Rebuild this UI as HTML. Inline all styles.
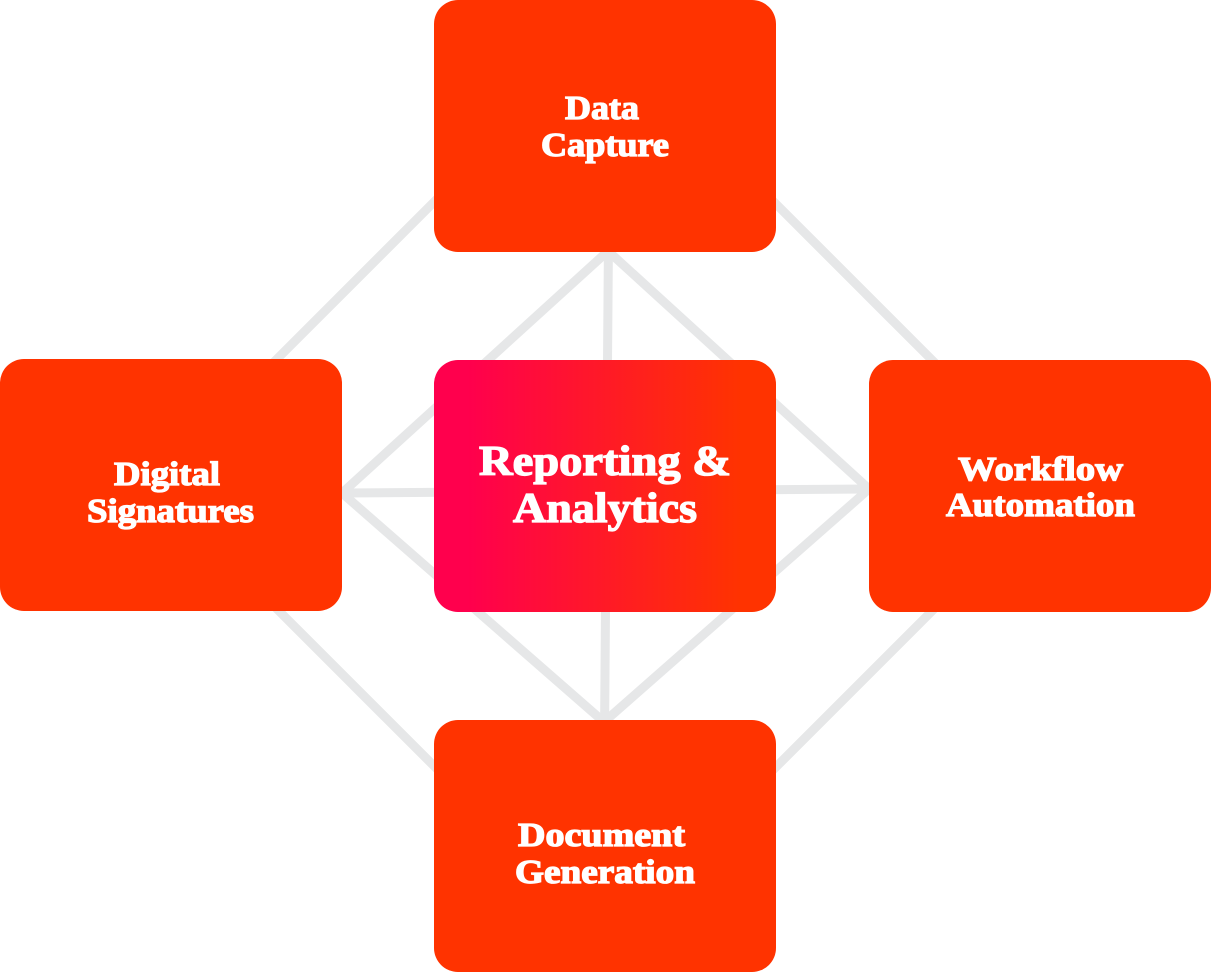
<!DOCTYPE html>
<html><head><meta charset="utf-8"><style>html,body{margin:0;padding:0;background:#fff}svg{display:block}text{font-family:"Liberation Serif",serif;font-weight:bold;fill:#fff;stroke:#fff;stroke-width:1.3px}</style></head>
<body><svg width="1211" height="972" viewBox="0 0 1211 972">
<defs><linearGradient id="g" x1="0" y1="0" x2="1" y2="0"><stop offset=".1" stop-color="#ff004d"/><stop offset=".9" stop-color="#ff3300"/></linearGradient></defs>
<g stroke="#e6e7e8" stroke-width="9" fill="none">
<path d="M440 196L272 364M770 198L940 368M272 604L440 772M940 603L770 773"/>
<path d="M608 251L342 493L604 722L869 489Z"/>
<path d="M608.4 251L604.6 722M342 493L869 489"/>
</g>
<g fill="#ff3300">
<rect x="434" y="0" width="342" height="252" rx="24"/>
<rect x="0" y="359" width="342" height="252" rx="24"/>
<rect x="869" y="360" width="342" height="252" rx="24"/>
<rect x="434" y="720" width="342" height="252" rx="24"/>
</g>
<rect x="434" y="360" width="342" height="252" rx="24" fill="url(#g)"/>
<g font-size="34">
<text x="565" y="119" textLength="74" lengthAdjust="spacingAndGlyphs">Data</text>
<text x="541" y="156" textLength="128" lengthAdjust="spacingAndGlyphs">Capture</text>
<text x="114" y="485" textLength="106" lengthAdjust="spacingAndGlyphs">Digital</text>
<text x="87" y="522" textLength="167" lengthAdjust="spacingAndGlyphs">Signatures</text>
<text x="958" y="480" textLength="165" lengthAdjust="spacingAndGlyphs">Workflow</text>
<text x="946" y="516" textLength="189" lengthAdjust="spacingAndGlyphs">Automation</text>
<text x="518" y="846" textLength="167" lengthAdjust="spacingAndGlyphs">Document</text>
<text x="515" y="883" textLength="180" lengthAdjust="spacingAndGlyphs">Generation</text>
</g>
<g font-size="42" style="stroke-width:1.6px">
<text x="479" y="475" textLength="252" lengthAdjust="spacingAndGlyphs">Reporting &amp;</text>
<text x="513" y="522" textLength="184" lengthAdjust="spacingAndGlyphs">Analytics</text>
</g>
</svg></body></html>
